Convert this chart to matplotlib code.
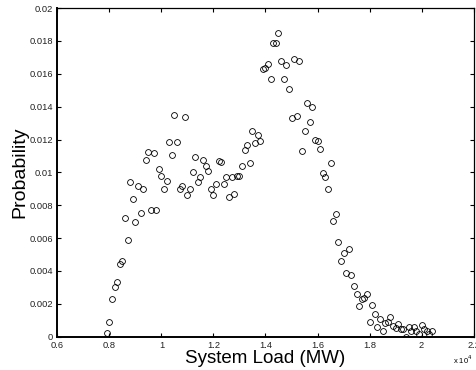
import numpy as np
import matplotlib
matplotlib.use('Agg')
import matplotlib.pyplot as plt

plt.rcParams['font.family'] = ['Liberation Sans', 'DejaVu Sans']

# system load bins (MW) and their probability
load = np.arange(7900, 20500, 100)
prob = [0.00022, 0.0009, 0.0023, 0.0030, 0.0033, 0.0044, 0.0046, 0.0072, 0.0059, 0.0094,
        0.0084, 0.0070, 0.0092, 0.0075, 0.0090, 0.01075, 0.01126, 0.0077, 0.0112, 0.0077,
        0.0102, 0.0098, 0.0090, 0.0095, 0.01183, 0.01106, 0.01349, 0.01183, 0.0090, 0.0092,
        0.01339, 0.0086, 0.0090, 0.0100, 0.01095, 0.0094, 0.0097, 0.01075, 0.0104, 0.0101,
        0.0090, 0.0086, 0.0093, 0.0107, 0.01063, 0.0093, 0.0097, 0.0085, 0.0097, 0.0087,
        0.0098, 0.0098, 0.0104, 0.01136, 0.01166, 0.01059, 0.01252, 0.01177, 0.01225, 0.01191,
        0.01627, 0.01637, 0.01663, 0.01566, 0.01785, 0.01785, 0.01848, 0.01676, 0.01566, 0.01651,
        0.01509, 0.01333, 0.01691, 0.01345, 0.01676, 0.01132, 0.01253, 0.01424, 0.01305, 0.01396,
        0.01197, 0.01191, 0.0114, 0.00998, 0.00974, 0.00897, 0.01059, 0.00704, 0.00745, 0.00578,
        0.00459, 0.00509, 0.00389, 0.00534, 0.00377, 0.00308, 0.00258, 0.00189, 0.00231, 0.00237,
        0.00258, 0.00091, 0.00195, 0.00138, 0.00061, 0.00106, 0.00035, 0.00082, 0.00091, 0.00118,
        0.00067, 0.00051, 0.00077, 0.00049, 0.00045, 0.0, 0.00061, 0.00033, 0.00061, 0.00035,
        0.00015, 0.00071, 0.00049, 0.00033, 0.00015, 0.00035]

xticks = [0.6, 0.8, 1.0, 1.2, 1.4, 1.6, 1.8, 2.0, 2.2]
xticklabels = ['0.6', '0.8', '1', '1.2', '1.4', '1.6', '1.8', '2', '2.2']
yticks = [0, 0.002, 0.004, 0.006, 0.008, 0.01, 0.012, 0.014, 0.016, 0.018, 0.02]
yticklabels = ['0', '0.002', '0.004', '0.006', '0.008', '0.01', '0.012', '0.014', '0.016', '0.018', '0.02']

fig = plt.figure(figsize=(4.77, 3.70), dpi=100)
ax = fig.add_axes([0.1205, 0.09, 0.8722, 0.888])

ax.plot(load / 1e4, prob, 'o', mfc='none', mec='black', ms=4.2, mew=0.6)

ax.set_xlim(0.6, 2.2)
ax.set_ylim(0, 0.02)
ax.set_xticks(xticks)
ax.set_xticklabels(xticklabels)
ax.set_yticks(yticks)
ax.set_yticklabels(yticklabels)
ax.tick_params(direction='in', top=True, right=True, length=3, width=0.8,
               labelsize=6.7, labelcolor='#222222', pad=3)
for s in ax.spines.values():
    s.set_linewidth(0.9)
ax.spines['left'].set_linewidth(1.4)
ax.spines['bottom'].set_linewidth(1.4)

ax.set_xlabel('System Load (MW)', fontsize=13.5, labelpad=0)
ax.set_ylabel('Probability', fontsize=14, labelpad=1)
ax.text(0.975, -0.07, 'x 10$^4$', transform=ax.transAxes, fontsize=5.5, ha='center', va='center')

fig.savefig('out.png', dpi=100)
